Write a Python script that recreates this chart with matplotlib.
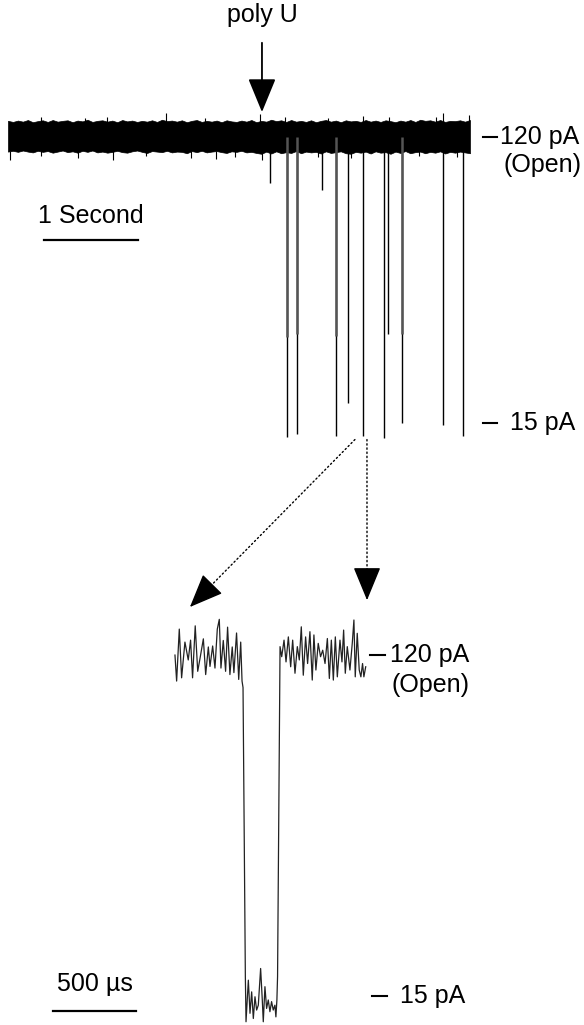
import matplotlib
matplotlib.use("Agg")
import matplotlib.pyplot as plt
import numpy as np

plt.rcParams['font.family'] = ['Liberation Sans', 'DejaVu Sans']

# top trace: open pore band (pA), sampled evenly over the 4.9 s record
band_upper = [125.9,125.5,126.0,125.6,126.2,125.4,125.8,126.1,125.5,126.2,
              125.6,125.9,126.1,125.4,126.0,125.7,126.3,125.5,125.9,126.1,
              125.6,126.0,125.4,126.2,125.7,126.0,125.5,125.9,125.6,126.1,
              125.5,126.3,125.8,126.0,125.6,126.1,125.4,125.9,126.2,125.5,
              125.9,125.6,126.0,125.4,126.1,125.7,125.5,126.0,125.6,126.2,
              125.4,125.9,125.6,126.3,125.8,126.1,125.5,126.2,125.6,125.9,
              125.5,126.1,125.4,125.9,126.2,125.6,126.0,125.4,126.1,125.7,
              125.9,125.5,126.2,125.6,126.0,125.5,126.1,125.8,125.4,126.0,
              125.6,126.2,125.5,126.3,125.9,126.1,125.6,126.2,125.5,125.9,
              125.8,126.1,125.6,126.2]
band_lower = [114.6,114.9,114.5,115.0,114.6,114.3,114.9,114.5,114.8,114.2,
              114.6,115.0,114.4,114.7,114.2,114.9,114.5,115.0,114.3,114.6,
              114.2,114.5,114.9,114.4,114.2,114.7,115.0,114.5,114.1,114.8,
              114.6,114.4,114.9,114.3,114.6,114.5,114.0,114.8,114.4,114.9,
              114.3,114.6,114.8,114.4,114.1,114.7,114.5,114.9,114.3,114.5,
              114.1,113.8,114.6,113.9,114.7,114.0,114.4,114.1,114.8,114.0,
              114.6,114.3,114.5,113.9,114.7,114.1,114.4,114.7,114.0,113.8,
              114.5,114.2,114.6,113.9,114.7,114.2,114.4,113.8,114.6,114.1,
              114.8,114.0,114.4,114.6,114.0,114.5,114.2,114.7,113.9,114.5,
              114.2,114.6,114.3,114.0]
record_len = 4.915  # s

# single noise spikes sticking out of the band (time s, tip pA)
hair_up_t = [0.35, 0.82, 1.05, 1.68, 2.10, 2.68, 2.95, 3.40, 3.78, 4.05, 4.55, 4.63, 4.90]
hair_up_I = [127.2, 127.0, 127.4, 128.8, 127.1, 128.4, 127.3, 127.0, 127.5, 127.2, 127.4, 128.7, 128.0]
hair_dn_t = [0.02, 0.35, 0.74, 1.12, 1.47, 1.95, 2.21, 2.42, 2.70, 3.30, 3.65, 4.37, 4.78]
hair_dn_I = [111.4, 112.8, 112.3, 111.5, 112.9, 112.4, 112.0, 112.7, 111.6, 112.5, 112.2, 112.8, 112.6]

# blockade events (time s, lowest current pA)
event_t = [2.787, 2.968, 3.074, 3.340, 3.489, 3.617, 3.777, 4.000, 4.043, 4.191, 4.628, 4.840]
event_I = [103.1, 9.9, 11.0, 100.5, 10.2, 22.3, 10.2, 9.5, 47.7, 15.0, 14.3, 10.2]
# overlapping shallower levels drawn thicker
partial_t = [2.968, 3.074, 3.489, 4.191]
partial_I = [46.6, 47.7, 47.0, 47.7]

# expanded single event (time us, current pA)
ev_t = [0, 10, 26, 40, 60, 80, 94, 106, 122, 137, 151, 171, 185, 201, 211, 227, 241, 255,
        267, 277, 291, 305, 317, 331, 345, 355, 371, 384, 396, 404, 410,
        424, 428, 442, 452, 462, 472, 482, 492, 502, 516, 526, 532, 542, 552, 562, 572,
        582, 592, 602, 608, 614, 618,
        633, 643, 657, 669, 683, 697, 709, 723, 737, 749, 761, 773, 787, 799, 813, 827,
        837, 849, 863, 877, 890, 904, 918, 930, 942, 954, 966, 978, 994, 1006, 1016,
        1026, 1038, 1054, 1068, 1078, 1086, 1098, 1110, 1120, 1130, 1138, 1149]
ev_I = [120.0, 112.0, 128.0, 113.0, 124.0, 118.5, 124.6, 113.0, 129.0, 115.0, 119.0, 125.0,
        114.0, 122.5, 116.5, 122.8, 116.0, 128.0, 131.0, 116.0, 124.5, 115.0, 128.6, 114.0,
        122.5, 114.6, 126.8, 112.5, 124.0, 112.0, 110.0,
        21.0, 7.1, 19.9, 9.7, 16.3, 8.1, 14.8, 10.7, 12.2, 23.5, 13.8, 7.1, 17.9, 11.2, 13.8,
        10.2, 13.3, 10.7, 12.2, 8.6, 13.8, 21.0,
        122.6, 119.5, 124.6, 117.9, 125.6, 116.4, 124.6, 114.4, 122.6, 118.5, 128.7, 113.8,
        125.6, 117.4, 127.2, 112.3, 126.2, 115.4, 123.6, 119.5, 121.5, 117.4, 125.1, 112.8,
        124.6, 112.3, 125.6, 113.3, 124.6, 117.9, 127.7, 114.4, 122.6, 115.4, 123.6, 130.8,
        113.3, 126.7, 115.4, 113.3, 117.4, 113.3, 116.4]

fig = plt.figure(figsize=(5.84, 10.25), dpi=100)

ax_top = fig.add_axes([0, 0, 1, 1])
ax_top.set_xlim(-0.085, 6.128)
ax_top.set_ylim(-206.3, 170.3)
ax_top.axis('off')

ax_bot = fig.add_axes([0, 0, 1, 1])
ax_bot.set_xlim(-1054, 2464)
ax_bot.set_ylim(6.1, 321.7)
ax_bot.axis('off')
ax_bot.patch.set_alpha(0)

fs = 18

# top record
tb = np.linspace(0, record_len, len(band_upper))
ax_top.fill_between(tb, band_lower, band_upper, color='black', lw=0.5)
ax_top.vlines(hair_up_t, 125, hair_up_I, color='black', lw=0.8)
ax_top.vlines(hair_dn_t, hair_dn_I, 115, color='black', lw=0.8)
ax_top.vlines(event_t, event_I, 120, color='black', lw=1.0)
ax_top.vlines(partial_t, partial_I, 120, color='#555555', lw=1.8)

ax_top.plot([5.05, 5.20], [120, 120], color='black', lw=1.5)
ax_top.text(5.23, 120, '120 pA', fontsize=fs, ha='left', va='center')
ax_top.text(6.10, 109.7, '(Open)', fontsize=fs, ha='right', va='center')
ax_top.plot([5.05, 5.20], [15, 15], color='black', lw=1.5)
ax_top.text(5.34, 15, '15 pA', fontsize=fs, ha='left', va='center')

# 1 s scale bar
ax_top.plot([0.383, 1.383], [82.2, 82.2], color='black', lw=1.6)
ax_top.text(0.883, 91.0, '1 Second', fontsize=fs, ha='center', va='center')

# poly U addition
ax_top.text(2.702, 164.8, 'poly U', fontsize=fs, ha='center', va='center')
ax_top.annotate('', xy=(2.702, 128.1), xytext=(2.702, 155.6),
                arrowprops=dict(arrowstyle='-|>,head_length=0.85,head_width=0.35',
                                mutation_scale=25, color='black', lw=1.3))

# expanded event
ax_bot.plot(ev_t, ev_I, color='#222222', lw=0.9)

ax_bot.plot([1175, 1265], [120, 120], color='black', lw=1.5)
ax_bot.text(1295, 120, '120 pA', fontsize=fs, ha='left', va='center')
ax_bot.text(1542, 110.8, '(Open)', fontsize=fs, ha='center', va='center')
ax_bot.plot([1187, 1277], [15, 15], color='black', lw=1.5)
ax_bot.text(1355, 15, '15 pA', fontsize=fs, ha='left', va='center')

ax_bot.plot([-735, -235], [10.4, 10.4], color='black', lw=1.6)
ax_bot.text(-482, 18.6, '500 µs', fontsize=fs, ha='center', va='center')

# dotted arrows from the record to the blow-up, solid heads
inv = ax_bot.transData.inverted()
for t0, tip in [(3.691, (90, 134.8)), (3.819, (1157, 136.9))]:
    p0 = ax_top.transData.transform((t0, 8.8))
    p1 = ax_bot.transData.transform(tip)
    near = inv.transform(p0 + (p1 - p0) * 0.9)
    ax_bot.annotate('', xy=near, xycoords='data',
                    xytext=(t0, 8.8), textcoords=ax_top.transData,
                    arrowprops=dict(arrowstyle='-', color='black', lw=1.0,
                                    linestyle=(0, (1, 2)), shrinkA=0, shrinkB=0))
    ax_bot.annotate('', xy=tip, xytext=near,
                    arrowprops=dict(arrowstyle='-|>,head_length=0.85,head_width=0.35',
                                    mutation_scale=25, color='black', lw=1.0,
                                    shrinkA=0, shrinkB=0))

fig.savefig('out.png', dpi=100)
